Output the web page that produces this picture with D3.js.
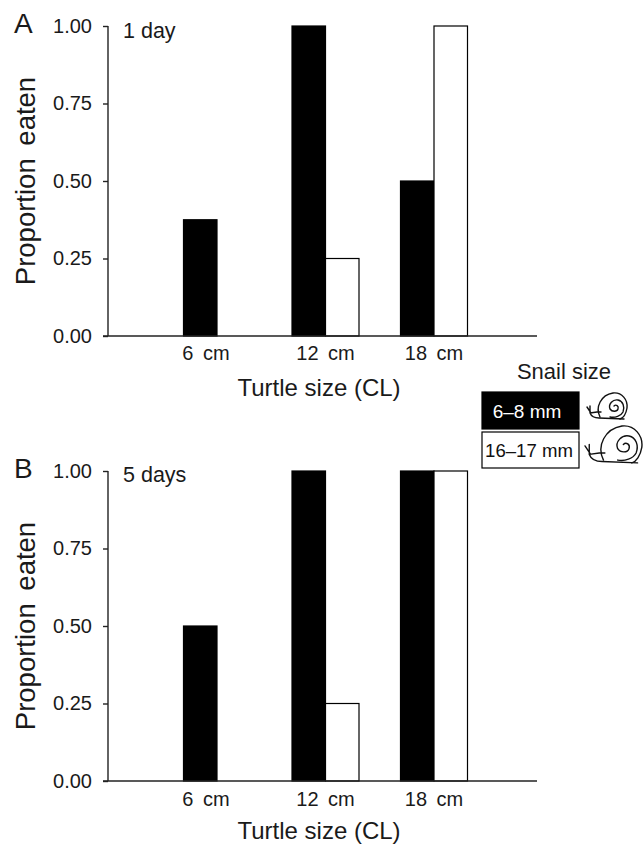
<!DOCTYPE html>
<html>
<head>
<meta charset="utf-8">
<script src="https://d3js.org/d3.v7.min.js"></script>
<style>
  html, body { margin: 0; background: #fff; }
  text { font-family: "Liberation Sans", Arial, sans-serif; fill: #1a1a1a; }
</style>
</head>
<body>
<div id="chart"></div>
<script>
// values
const turtleSizes = ['6 cm', '12 cm', '18 cm'];
const snailSizes = ['6\u20138 mm', '16\u201317 mm'];
const yTicks = [0, 0.25, 0.5, 0.75, 1];
const smallSnailDay1 = [0.375, 1, 0.5];
const largeSnailDay1 = [0, 0.25, 1];
const smallSnailDay5 = [0.5, 1, 1];
const largeSnailDay5 = [0, 0.25, 1];

const width = 643, height = 844;
const svg = d3.select('#chart').append('svg')
  .attr('width', width)
  .attr('height', height)
  .style('display', 'block');

const x = d3.scalePoint().domain(turtleSizes).range([217, 434]);
const barW = 33.5;
const snailColor = d3.scaleOrdinal().domain(snailSizes).range(['#000', '#fff']);

function drawPanel(top, letter, note, small, large, labelY, titleY, noteY) {
  const y = d3.scaleLinear().domain([0, 1]).range([top + 310, top]);
  const g = svg.append('g');

  // bars first so the axis sits on top
  snailSizes.forEach((s, k) => {
    const vals = k === 0 ? small : large;
    g.selectAll(null)
      .data(turtleSizes.map((t, i) => ({ t, v: vals[i] })).filter(d => d.v > 0))
      .enter().append('rect')
      .attr('x', d => x(d.t) + (k === 0 ? -barW : 0))
      .attr('y', d => y(d.v))
      .attr('width', barW)
      .attr('height', d => y(0) - y(d.v))
      .attr('fill', snailColor(s))
      .attr('stroke', '#000')
      .attr('stroke-width', 1.2);
  });

  // y axis
  const yAxis = g.append('g')
    .attr('transform', 'translate(108,0)')
    .call(d3.axisLeft(y).tickValues(yTicks).tickFormat(d3.format('.2f')).tickSize(5).tickPadding(11));
  yAxis.selectAll('path, line').attr('stroke', '#222').attr('stroke-width', 1.4);
  yAxis.select('.domain').attr('d', `M0,${y(1)}V${y(0)}`);
  yAxis.selectAll('text').attr('font-size', 20).attr('font-family', '"Liberation Sans", Arial, sans-serif');

  // x axis line runs out to the right edge of the plot
  g.append('line')
    .attr('x1', 103).attr('x2', 537)
    .attr('y1', y(0)).attr('y2', y(0))
    .attr('stroke', '#222').attr('stroke-width', 1.4);

  // the 6 cm label sits left of its group in the original
  g.selectAll(null)
    .data(turtleSizes)
    .enter().append('text')
    .attr('x', d => x(d) + (d === '6 cm' ? -11 : 0))
    .attr('y', labelY)
    .attr('text-anchor', 'middle')
    .attr('font-size', 20)
    .attr('word-spacing', 4)
    .text(d => d);

  g.append('text')
    .attr('x', 319).attr('y', titleY)
    .attr('text-anchor', 'middle')
    .attr('font-size', 24)
    .text('Turtle size (CL)');

  g.append('text')
    .attr('transform', `translate(35,${top + 155}) rotate(-90)`)
    .attr('text-anchor', 'middle')
    .attr('font-size', 27.5)
    .attr('word-spacing', 5)
    .text('Proportion eaten');

  g.append('text')
    .attr('x', 14).attr('y', top + 7)
    .attr('font-size', 28)
    .text(letter);

  g.append('text')
    .attr('x', 123).attr('y', noteY)
    .attr('font-size', 21.5)
    .text(note);
}

drawPanel(26, 'A', '1 day', smallSnailDay1, largeSnailDay1, 360, 396, 38);
drawPanel(471, 'B', '5 days', smallSnailDay5, largeSnailDay5, 806, 839, 482);

// legend
svg.append('text')
  .attr('x', 564).attr('y', 379)
  .attr('text-anchor', 'middle')
  .attr('font-size', 22)
  .text('Snail size');

const legendBoxes = [
  { y: 392, h: 37, textX: 527, size: 19 },
  { y: 432, h: 36, textX: 529, size: 18.6 }
];
snailSizes.forEach((s, i) => {
  const b = legendBoxes[i];
  svg.append('rect')
    .attr('x', 482).attr('y', b.y)
    .attr('width', 97).attr('height', b.h)
    .attr('fill', snailColor(s))
    .attr('stroke', '#000')
    .attr('stroke-width', 1.2);
  svg.append('text')
    .attr('x', b.textX).attr('y', b.y + b.h / 2 + 7)
    .attr('text-anchor', 'middle')
    .attr('font-size', b.size)
    .style('fill', i === 0 ? '#fff' : '#111')
    .text(s);
});

// little snail icon, unit size about 40 wide
function snail(tx, ty, k) {
  const g = svg.append('g')
    .attr('transform', `translate(${tx},${ty}) scale(${k})`)
    .attr('fill', 'none')
    .attr('stroke', '#111')
    .attr('stroke-width', 1.4 / k)
    .attr('stroke-linecap', 'round');
  // foot and tentacles
  g.append('path').attr('d', 'M3,13 L3,20 Q5,25 12,25 L37,26 M0,14 L4,20 M3,20 L10,19 L14,19');
  // shell
  g.append('path').attr('d', 'M13,24 C8,14 14,2 26,0 C35,-1 41,7 40,15 C39,21 36,25 33,26');
  // spiral
  g.append('path').attr('d', 'M27,13 C29,11 32,13 31,16 C30,19 25,19 23,16 C21,11 26,6 31,7 C36,8 38,14 36,19 C34,23 28,25 23,24');
}
snail(587, 393, 1.0);
snail(585, 426, 1.42);
</script>
</body>
</html>
